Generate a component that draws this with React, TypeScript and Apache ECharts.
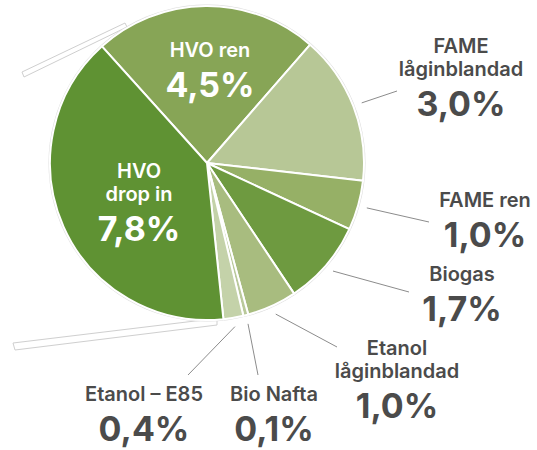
import React, { useEffect, useRef } from 'react';
import * as echarts from 'echarts';

const names = [
  'HVO ren',
  'FAME\nlåginblandad',
  'FAME ren',
  'Biogas',
  'Etanol\nlåginblandad',
  'Bio Nafta',
  'Etanol – E85',
  'HVO\ndrop in',
];
const values = [4.5, 3.0, 1.0, 1.7, 1.0, 0.1, 0.4, 7.8];
const colors = ['#87a556', '#b7c796', '#96b066', '#6e9a40', '#a8bc7f', '#b9c99a', '#c4d2a9', '#5f9233'];
const insideLabel = [true, false, false, false, false, false, false, true];
const labelCenters: number[][] = [
  [210, 73], [461, 80], [485, 223], [462, 297], [397, 382], [274, 417], [144, 417], [139, 205],
];
const lineEnds: (number[] | null)[] = [
  null, [397, 91], [429, 222], [409, 292], [337, 347], [258, 375], [188, 375], null,
];

const CX = 207;
const CY = 163;
const R = 157;
const TEXT = '#4b4b4b';
const FONT = 'Inter, "Noto Sans", sans-serif';

function fmt(v: number) {
  return v.toFixed(1).replace('.', ',') + '%';
}

export default function App() {
  const ref = useRef<HTMLDivElement>(null);
  useEffect(() => {
    if (!ref.current) return;
    const chart = echarts.init(ref.current, undefined, { renderer: 'svg' });
    const data = names.map((n, i) => ({
      name: n,
      value: values[i],
      itemStyle: { color: colors[i] },
      labelLine: { show: !insideLabel[i] },
    }));
    chart.setOption({
      animation: false,
      backgroundColor: '#ffffff',
      graphic: [
        {
          type: 'polygon',
          shape: { points: [[22, 72], [125, 23], [127, 27], [24, 77]] },
          style: { fill: '#ffffff', stroke: '#cfcfcf', lineWidth: 1 },
        },
        {
          type: 'polygon',
          shape: { points: [[13, 343], [195, 321], [217, 319], [217, 325], [15, 350]] },
          style: { fill: '#ffffff', stroke: '#cfcfcf', lineWidth: 1 },
        },
      ],
      series: [
        {
          type: 'pie',
          silent: true,
          z: 1,
          center: [CX, CY],
          radius: [0, R + 1.5],
          label: { show: false },
          labelLine: { show: false },
          data: [{ value: 1, name: 'rim', itemStyle: { color: '#dcdcdc' } }],
        },
        {
          type: 'pie',
          z: 2,
          center: [CX, CY],
          radius: [0, R],
          startAngle: 132,
          clockwise: true,
          avoidLabelOverlap: false,
          itemStyle: { borderColor: '#ffffff', borderWidth: 2 },
          label: {
            show: true,
            position: 'outside',
            fontFamily: FONT,
            formatter: (p: any) => {
              const i = p.dataIndex;
              const nk = insideLabel[i] ? 'nw' : 'n';
              const vk = insideLabel[i] ? 'vw' : 'v';
              const lines = String(p.name).split('\n').map((l: string) => `{${nk}|${l}}`);
              return lines.join('\n') + `\n{${vk}|${fmt(p.value)}}`;
            },
            rich: {
              n: { fontFamily: FONT, fontSize: 20, fontWeight: 600, lineHeight: 23, color: TEXT, align: 'center' },
              v: { fontFamily: FONT, fontSize: 34, fontWeight: 700, lineHeight: 46, color: TEXT, align: 'center' },
              nw: { fontFamily: FONT, fontSize: 20, fontWeight: 600, lineHeight: 23, color: '#ffffff', align: 'center' },
              vw: { fontFamily: FONT, fontSize: 34, fontWeight: 700, lineHeight: 46, color: '#ffffff', align: 'center' },
            },
          },
          labelLine: {
            show: true,
            length: 10,
            length2: 10,
            lineStyle: { color: '#8c8c8c', width: 1 },
          },
          labelLayout: (params: any) => {
            const i = params.dataIndex;
            const c = labelCenters[i];
            const res: any = { x: c[0], y: c[1], align: 'center', verticalAlign: 'middle' };
            const end = lineEnds[i];
            if (end && params.labelLinePoints && params.labelLinePoints[0]) {
              const p0 = params.labelLinePoints[0];
              const dx = p0[0] - CX;
              const dy = p0[1] - CY;
              const d = Math.hypot(dx, dy) || 1;
              const s = [CX + (dx / d) * (R + 9), CY + (dy / d) * (R + 9)];
              res.labelLinePoints = [s, end, end];
            }
            return res;
          },
          data,
        },
      ],
    });
    return () => chart.dispose();
  }, []);
  return (
    <div
      ref={ref}
      style={{ position: 'fixed', left: 0, top: 0, width: 537, height: 450 }}
    />
  );
}
